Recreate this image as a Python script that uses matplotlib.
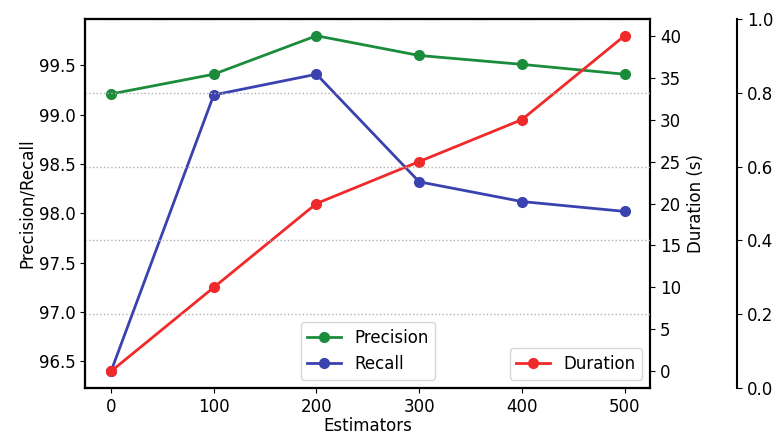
import matplotlib.pyplot as plt

estimators = [0, 100, 200, 300, 400, 500]
precision = [99.21, 99.41, 99.8, 99.6, 99.51, 99.41]
recall = [96.4, 99.2, 99.41, 98.32, 98.12, 98.02]
duration = [0, 10, 20, 25, 30, 40]

plt.rcParams['font.size'] = 12

fig = plt.figure(figsize=(7.76, 4.41), dpi=100)
ax = fig.add_axes([0.11, 0.12, 0.728, 0.837])

ax.plot(estimators, precision, marker='o', ms=7, lw=2, color='#1b8c3c', label='Precision')
ax.plot(estimators, recall, marker='o', ms=7, lw=2, color='#3a42b0', label='Recall')
ax.set_xlabel('Estimators', labelpad=1)
ax.set_ylabel('Precision/Recall', labelpad=2)
ax.set_xticks(estimators)
ax.legend(loc='lower center')

ax2 = ax.twinx()
ax2.plot(estimators, duration, marker='o', ms=7, lw=2, color='#f02a2a', label='Duration')
ax2.set_ylabel('Duration (s)', labelpad=4)
ax2.set_yticks(range(0, 41, 5))
ax2.legend(loc='lower right')

# third axis only carries the grid
ax3 = ax.twinx()
ax3.spines['right'].set_position(('axes', 1.154))
ax3.set_ylim(0, 1)
ax3.grid(True, linestyle=':', color='#b0b0b0', linewidth=1)
ax3.set_axisbelow(True)

for a in (ax, ax2, ax3):
    for s in a.spines.values():
        s.set_linewidth(1.5)

fig.savefig('out.png', dpi=100)
